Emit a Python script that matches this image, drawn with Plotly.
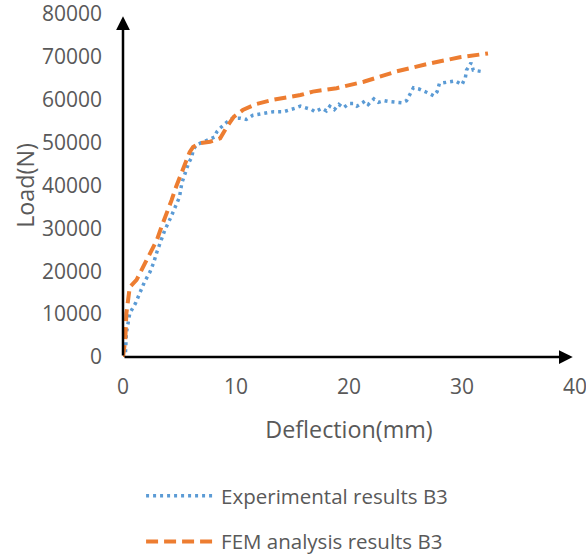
import plotly.graph_objects as go

# Experimental results B3 (deflection mm, load N)
exp_x = [0.0, 0.2, 0.3, 0.6, 1.1, 1.5, 1.9, 2.4, 2.7, 3.0, 3.3, 3.7, 4.2, 4.6, 5.0, 5.2, 5.5, 5.8,
         6.1, 6.2, 6.5, 7.1, 7.7, 8.1, 8.3, 8.6, 9.2, 9.7, 10.4, 10.9, 11.5, 12.4, 13.3, 14.2,
         14.8, 15.2, 15.7, 16.3, 16.7, 17.0, 17.6, 18.0, 18.3, 18.7, 19.1, 19.5, 20.0, 20.4,
         20.7, 21.2, 21.4, 21.7, 22.2, 22.6, 23.1, 23.5, 24.1, 24.7, 25.1, 25.4, 25.7, 26.2,
         26.6, 26.9, 27.5, 27.8, 28.0, 28.6, 29.4, 30.0, 30.3, 30.4, 30.8, 31.0, 31.7]
exp_y = [0, 0, 5600, 10200, 12500, 14900, 17500, 19900, 21900, 24500, 26800, 29600, 32400, 35000,
         37300, 40500, 43200, 45200, 46700, 48300, 49500, 50200, 50800, 51300, 52500, 53400,
         54800, 55700, 55700, 55400, 56400, 56800, 57200, 57200, 57600, 58000, 58500, 58000,
         57700, 57200, 58000, 57400, 58500, 57700, 58900, 58100, 59100, 59100, 58500, 59300,
         59700, 58900, 60200, 59400, 59800, 59600, 59400, 59300, 59800, 61400, 62800, 62500,
         62100, 61700, 60900, 61900, 63800, 64000, 64400, 63500, 65200, 66900, 68600, 66900, 66600]

# FEM analysis results B3
fem_x = [0.0, 0.2, 0.3, 0.6, 1.2, 1.8, 2.4, 3.0, 3.4, 3.9, 4.3, 4.7, 5.2, 5.6, 5.9, 6.2, 6.8,
         7.7, 8.6, 9.2, 9.8, 10.6, 11.8, 13.3, 15.7, 16.8, 18.9, 21.3, 24.2, 27.2, 29.8, 32.3]
fem_y = [0, 4000, 10200, 16300, 18000, 21000, 24200, 27300, 30300, 33500, 36600, 39700, 42900,
         45900, 47800, 49000, 49900, 50200, 51000, 53700, 56000, 57600, 59000, 60000, 61100,
         61900, 62700, 64200, 66600, 68500, 69900, 70800]

x_ticks = [0, 10, 20, 30, 40]
y_ticks = [0, 10000, 20000, 30000, 40000, 50000, 60000, 70000, 80000]
y_tick_text = [str(v) for v in y_ticks]

FONT = "Open Sans"
GREY = "#595959"

fig = go.Figure()
fig.add_trace(go.Scatter(x=exp_x, y=exp_y, mode="lines", name="Experimental results B3",
                         legendgroup="a",
                         line=dict(color="#5B9BD5", width=3.5, dash="3px,4px")))
fig.add_trace(go.Scatter(x=fem_x, y=fem_y, mode="lines", name="FEM analysis results B3",
                         legendgroup="b",
                         line=dict(color="#ED7D31", width=4, dash="12px,6px")))

fig.update_layout(
    width=586, height=560,
    margin=dict(l=123, r=11, t=14, b=203, autoexpand=False),
    plot_bgcolor="white", paper_bgcolor="white",
    font=dict(family=FONT, size=20, color=GREY),
    xaxis=dict(range=[0, 40], tickvals=x_ticks, showgrid=False, zeroline=False,
               showline=False, ticks="", ticklabelstandoff=15, automargin=False,
               ticklabeloverflow="allow",
               tickfont=dict(size=21, color=GREY),
               title=dict(text="Deflection(mm)", font=dict(size=23.3, color=GREY), standoff=22)),
    yaxis=dict(range=[0, 80000], tickvals=y_ticks, ticktext=y_tick_text, showgrid=False,
               zeroline=False, showline=False, ticks="", ticklabelstandoff=20, automargin=False,
               ticklabeloverflow="allow",
               tickfont=dict(size=21, color=GREY),
               title=dict(text="Load(N)", font=dict(size=23.3, color=GREY), standoff=0)),
    legend=dict(x=0.04, y=0.150, xanchor="left", yanchor="top", yref="container",
                tracegroupgap=16,
                font=dict(size=20.5, color=GREY), itemwidth=70, bgcolor="rgba(0,0,0,0)"),
    showlegend=True,
)

# axis lines with arrowheads
fig.add_annotation(x=0, y=79500, ax=0, ay=0, xref="x", yref="y", axref="x", ayref="y",
                   showarrow=True, arrowhead=2, arrowwidth=2.5, arrowsize=1.1,
                   arrowcolor="black", standoff=0, startstandoff=0, text="")
fig.add_annotation(x=39.8, y=0, ax=0, ay=0, xref="x", yref="y", axref="x", ayref="y",
                   showarrow=True, arrowhead=2, arrowwidth=2.5, arrowsize=1.1,
                   arrowcolor="black", standoff=0, startstandoff=0, text="")

fig.write_html("out.html")
